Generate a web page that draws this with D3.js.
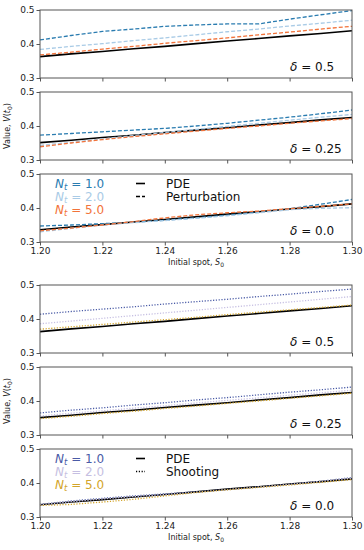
<!DOCTYPE html>
<html>
<head>
<meta charset="utf-8">
<script src="https://cdn.jsdelivr.net/npm/d3@7"></script>
<style>
  body { margin: 0; background: #fff; }
  svg { font-family: 'DejaVu Sans', sans-serif; }
</style>
</head>
<body>
<svg width="364" height="550"></svg>
<script>
// spot grid shared by every curve
var spots = [1.20, 1.21, 1.22, 1.23, 1.24, 1.25, 1.26, 1.27, 1.28, 1.29, 1.30];
var xTicks = [1.20, 1.22, 1.24, 1.26, 1.28, 1.30];
var yTicks = [0.3, 0.4, 0.5];
var deltas = ['0.5', '0.25', '0.0'];
var ntLabels = ['1.0', '2.0', '5.0'];

// PDE reference, one per delta
var pde05  = [0.363, 0.371, 0.378, 0.386, 0.393, 0.401, 0.409, 0.416, 0.424, 0.431, 0.439];
var pde025 = [0.351, 0.358, 0.366, 0.373, 0.381, 0.388, 0.395, 0.403, 0.410, 0.418, 0.425];
var pde00  = [0.336, 0.344, 0.351, 0.359, 0.366, 0.374, 0.382, 0.389, 0.397, 0.404, 0.412];

// perturbation, Nt = 1, 2, 5
var pert05 = [
  [0.412, 0.425, 0.437, 0.444, 0.452, 0.456, 0.459, 0.459, 0.473, 0.486, 0.498],
  [0.384, 0.393, 0.401, 0.410, 0.418, 0.427, 0.436, 0.444, 0.453, 0.461, 0.470],
  [0.368, 0.376, 0.385, 0.393, 0.402, 0.410, 0.418, 0.427, 0.435, 0.444, 0.452]
];
var pert025 = [
  [0.373, 0.378, 0.383, 0.388, 0.393, 0.400, 0.408, 0.417, 0.426, 0.436, 0.447],
  [0.343, 0.352, 0.362, 0.372, 0.381, 0.390, 0.399, 0.408, 0.417, 0.426, 0.434],
  [0.339, 0.350, 0.360, 0.369, 0.377, 0.385, 0.393, 0.400, 0.408, 0.415, 0.422]
];
var pert00 = [
  [0.347, 0.350, 0.354, 0.358, 0.364, 0.371, 0.379, 0.388, 0.398, 0.411, 0.425],
  [0.330, 0.340, 0.350, 0.357, 0.363, 0.370, 0.377, 0.386, 0.395, 0.399, 0.401],
  [0.333, 0.341, 0.350, 0.360, 0.371, 0.380, 0.386, 0.391, 0.398, 0.405, 0.412]
];

// shooting, Nt = 1, 2, 5
var shoot05 = [
  [0.414, 0.422, 0.429, 0.436, 0.444, 0.451, 0.458, 0.466, 0.473, 0.481, 0.488],
  [0.386, 0.394, 0.402, 0.410, 0.418, 0.426, 0.434, 0.442, 0.450, 0.458, 0.466],
  [0.370, 0.377, 0.384, 0.391, 0.398, 0.405, 0.413, 0.420, 0.427, 0.434, 0.441]
];
var shoot025 = [
  [0.365, 0.373, 0.380, 0.388, 0.395, 0.403, 0.410, 0.418, 0.426, 0.433, 0.441],
  [0.356, 0.364, 0.371, 0.379, 0.386, 0.394, 0.402, 0.409, 0.417, 0.424, 0.432],
  [0.348, 0.355, 0.363, 0.370, 0.378, 0.385, 0.393, 0.400, 0.408, 0.415, 0.423]
];
var shoot00 = [
  [0.337, 0.347, 0.355, 0.362, 0.368, 0.374, 0.381, 0.388, 0.396, 0.405, 0.416],
  [0.336, 0.345, 0.353, 0.360, 0.366, 0.373, 0.380, 0.388, 0.396, 0.405, 0.414],
  [0.334, 0.337, 0.344, 0.352, 0.362, 0.372, 0.380, 0.387, 0.394, 0.402, 0.410]
];

var pertColors  = ['#2a7cb0', '#a9cbe6', '#f2733a'];
var shootColors = ['#4a5ba6', '#c6bfe2', '#d3a52a'];

var left = 40, right = 352, panelH = 68;
var svg = d3.select('svg');

var x = d3.scaleLinear().domain([1.20, 1.30]).range([left, right]);

function drawFigure(top, pdes, series, colors, dash, methodName) {
  var tops = [top, top + 82, top + 164];

  tops.forEach(function(t, i) {
    var y = d3.scaleLinear().domain([0.3, 0.5]).range([t + panelH, t]);
    var g = svg.append('g');
    var line = d3.line()
      .x(function(d, k) { return x(spots[k]); })
      .y(function(d) { return y(d); });

    g.append('path')
      .attr('d', line(pdes[i]))
      .attr('fill', 'none')
      .attr('stroke', '#000')
      .attr('stroke-width', 1.6);

    series[i].forEach(function(vals, j) {
      g.append('path')
        .attr('d', line(vals))
        .attr('fill', 'none')
        .attr('stroke', colors[j])
        .attr('stroke-width', 1.3)
        .attr('stroke-dasharray', dash);
    });

    // axes
    var yAxis = g.append('g')
      .attr('transform', 'translate(' + left + ',0)')
      .call(d3.axisLeft(y).tickValues(yTicks).tickFormat(d3.format('.1f')).tickSize(3.5).tickPadding(2));
    var xAxis = g.append('g')
      .attr('transform', 'translate(0,' + (t + panelH) + ')')
      .call(d3.axisBottom(x).tickValues(xTicks).tickFormat(d3.format('.2f')).tickSize(3.5).tickPadding(2.5));
    if (i < 2) xAxis.selectAll('text').remove();
    [yAxis, xAxis].forEach(function(a) {
      a.select('.domain').remove();
      a.selectAll('line').attr('stroke', '#555');
      a.selectAll('text').attr('font-size', 9).attr('fill', '#222')
        .attr('font-family', "'DejaVu Sans', sans-serif");
    });

    g.append('rect')
      .attr('x', left).attr('y', t)
      .attr('width', right - left).attr('height', panelH)
      .attr('fill', 'none').attr('stroke', '#555').attr('stroke-width', 1);

    var dl = g.append('text')
      .attr('x', 290).attr('y', t + panelH - 7)
      .attr('font-size', 12).attr('fill', '#111');
    dl.append('tspan').attr('font-style', 'italic').text('δ');
    dl.append('tspan').text(' = ' + deltas[i]);
  });

  // legend in bottom panel
  var lt = tops[2];
  ntLabels.forEach(function(lab, j) {
    var ly = lt + 13.5 + j * 13;
    var tx = svg.append('text').attr('x', 55).attr('y', ly)
      .attr('font-size', 12).attr('fill', colors[j]);
    tx.append('tspan').attr('font-style', 'italic').text('N');
    tx.append('tspan').attr('font-style', 'italic').attr('font-size', 8.5).attr('dy', 2.5).text('t');
    tx.append('tspan').attr('dy', -2.5).text(' = ' + lab);
  });
  var lines = [['PDE', null, 1.6], [methodName, dash, 1.3]];
  lines.forEach(function(l, j) {
    var ly = lt + 13.5 + j * 13;
    svg.append('line')
      .attr('x1', 136).attr('x2', 145)
      .attr('y1', ly - 4).attr('y2', ly - 4)
      .attr('stroke', '#000').attr('stroke-width', l[2])
      .attr('stroke-dasharray', l[1]);
    svg.append('text').attr('x', 166).attr('y', ly)
      .attr('font-size', 12).attr('fill', '#111').text(l[0]);
  });

  // axis titles
  var xl = svg.append('text')
    .attr('x', (left + right) / 2).attr('y', tops[2] + panelH + 23)
    .attr('text-anchor', 'middle').attr('font-size', 8).attr('fill', '#222');
  xl.append('tspan').text('Initial spot, ');
  xl.append('tspan').attr('font-style', 'italic').text('S');
  xl.append('tspan').attr('font-size', 6).attr('dy', 2).text('0');

  var yl = svg.append('text')
    .attr('transform', 'translate(10,' + (tops[1] + panelH / 2) + ') rotate(-90)')
    .attr('text-anchor', 'middle').attr('font-size', 8).attr('fill', '#222');
  yl.append('tspan').text('Value, ');
  yl.append('tspan').attr('font-style', 'italic').text('V');
  yl.append('tspan').text('(');
  yl.append('tspan').attr('font-style', 'italic').text('t');
  yl.append('tspan').attr('font-size', 6).attr('dy', 2).text('0');
  yl.append('tspan').attr('dy', -2).text(')');
}

drawFigure(10, [pde05, pde025, pde00], [pert05, pert025, pert00], pertColors, '4,2', 'Perturbation');
drawFigure(285, [pde05, pde025, pde00], [shoot05, shoot025, shoot00], shootColors, '1.2,1.6', 'Shooting');
</script>
</body>
</html>
